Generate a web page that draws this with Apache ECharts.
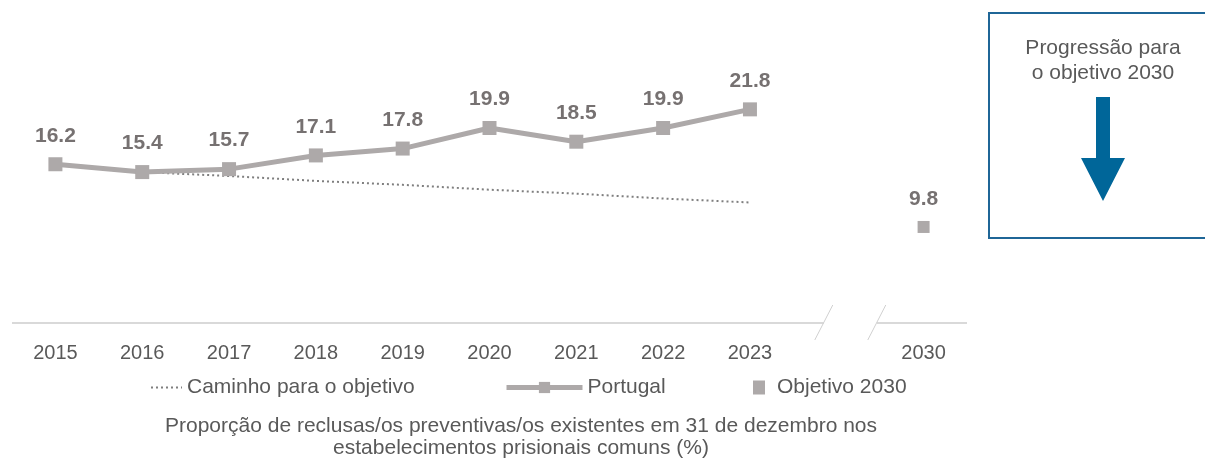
<!DOCTYPE html>
<html><head><meta charset="utf-8">
<script src="https://cdn.jsdelivr.net/npm/echarts@6/dist/echarts.min.js"></script>
<style>html,body{margin:0;padding:0;background:#fff}#c{width:1205px;height:461px}</style>
</head><body><div id="c"></div>
<script>
const categories = ['2015','2016','2017','2018','2019','2020','2021','2022','2023','','2030'];
const portugal = [16.2,15.4,15.7,17.1,17.8,19.9,18.5,19.9,21.8,null,null];
const caminho = [null,15.4,15.0,14.5,14.1,13.6,13.2,12.7,12.3,null,null];
const objetivo = [null,null,null,null,null,null,null,null,null,null,9.8];
const seriesNames = ['Caminho para o objetivo','Portugal','Objetivo 2030'];
const titleLines = ['Proporção de reclusas/os preventivas/os existentes em 31 de dezembro nos','estabelecimentos prisionais comuns (%)'];
const boxLines = ['Progressão para','o objetivo 2030'];

const FONT = "'Liberation Sans', Arial, sans-serif";
const GRAY = '#ADA9A9';
const LABEL = '#767171';
const TEXT = '#595959';
const BLUE = '#1F6697';
const ARROW = '#006699';

const chart = echarts.init(document.getElementById('c'), null, {renderer:'canvas'});
const labelCfg = {show:true, position:'top', distance:11, color:LABEL, fontFamily:FONT, fontSize:21, fontWeight:'bold',
  formatter: p => p.value == null ? '' : Number(p.value).toFixed(1)};
const legendText = {color:TEXT, fontSize:21, fontFamily:FONT};

chart.setOption({
  animation:false,
  textStyle:{fontFamily:FONT},
  grid:{left:12, right:238, top:29, bottom:138, containLabel:false},
  xAxis:{type:'category', data:categories, boundaryGap:true,
    axisLine:{show:false}, axisTick:{show:false},
    axisLabel:{color:TEXT, fontSize:20, margin:20, fontFamily:FONT, interval:0}},
  yAxis:{type:'value', min:0, max:30, show:false, splitLine:{show:false}},
  legend:[
    {data:[seriesNames[0]], left:145, top:372, itemWidth:31, itemHeight:14, itemGap:0,
     itemStyle:{color:'rgba(0,0,0,0)', borderWidth:0}, lineStyle:{width:2},
     textStyle:legendText},
    {data:[seriesNames[1]], left:499, top:372, itemWidth:76, itemHeight:14, itemGap:0,
     lineStyle:{width:5}, textStyle:legendText},
    {data:[{name:seriesNames[2], icon:'rect'}], left:748, top:372, itemWidth:12, itemHeight:14, itemGap:0,
     textStyle:Object.assign({padding:[0,0,0,7]}, legendText)}
  ],
  title:{text:titleLines.join('\n'), left:516, top:410, textAlign:'center',
    textStyle:{color:TEXT, fontSize:21, fontWeight:'normal', fontFamily:FONT, lineHeight:22}},
  series:[
    {name:seriesNames[0], type:'line', data:caminho, symbol:'none', z:2,
     lineStyle:{color:'#7F7F7F', width:2, type:[2,3]}, itemStyle:{color:'#7F7F7F'}},
    {name:seriesNames[1], type:'line', data:portugal, symbol:'rect', symbolSize:14, z:3,
     lineStyle:{color:GRAY, width:5}, itemStyle:{color:GRAY}, label:labelCfg},
    {name:seriesNames[2], type:'line', data:objetivo, symbol:'rect', symbolSize:12, z:3,
     lineStyle:{color:GRAY, width:0}, itemStyle:{color:GRAY}, label:labelCfg}
  ]
});

function drawDecor(){
  const y0 = chart.convertToPixel({yAxisIndex:0}, 0);
  const gridRect = chart.getModel().getComponent('grid').coordinateSystem.getRect();
  const p9 = chart.convertToPixel({xAxisIndex:0}, 9);
  const xa = p9 - 13, xb = p9 + 40;
  const axisStyle = {stroke:'#D9D9D9', lineWidth:2};
  const slashStyle = {stroke:'#D0D0D0', lineWidth:1};
  chart.setOption({graphic:[
    {type:'line', shape:{x1:gridRect.x, y1:y0, x2:xa, y2:y0}, style:axisStyle, silent:true},
    {type:'line', shape:{x1:xb, y1:y0, x2:gridRect.x+gridRect.width, y2:y0}, style:axisStyle, silent:true},
    {type:'line', shape:{x1:xa+9, y1:y0-18, x2:xa-9, y2:y0+17}, style:slashStyle, silent:true},
    {type:'line', shape:{x1:xb+9, y1:y0-18, x2:xb-9, y2:y0+17}, style:slashStyle, silent:true},
    {type:'rect', shape:{x:989, y:13, width:240, height:225}, style:{fill:'#fff', stroke:BLUE, lineWidth:2}, silent:true},
    {type:'text', x:1103, y:36, style:{text:boxLines.join('\n'), fill:TEXT, font:'21px '+FONT, align:'center', verticalAlign:'top', lineHeight:25}, silent:true},
    {type:'polygon', shape:{points:[[1096,97],[1110,97],[1110,158],[1125,158],[1103,201],[1081,158],[1096,158]]}, style:{fill:ARROW}, silent:true}
  ]});
}
drawDecor();
</script>
</body></html>
